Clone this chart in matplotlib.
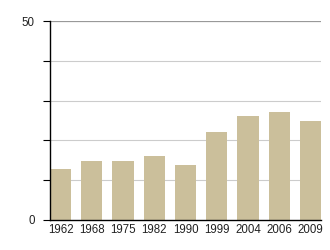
import numpy as np
import matplotlib
matplotlib.use("Agg")
import matplotlib.pyplot as plt

plt.rcParams["font.family"] = ["Liberation Sans", "DejaVu Sans"]

# values
years = ["1962", "1968", "1975", "1982", "1990", "1999", "2004", "2006", "2009"]
values = [12.8, 14.8, 14.8, 16.2, 13.8, 22.1, 26.1, 27.1, 24.9]
y_ticks = [0, 10, 20, 30, 40, 50]
y_labels = ["0", "", "", "", "", "50"]

bar_color = "#cbbf9b"
width = 0.68

fig = plt.figure(figsize=(3.3, 2.5), dpi=100)
ax = fig.add_axes([50 / 330, 30 / 250, 271 / 330, 199 / 250])

x = np.arange(len(years))
ax.bar(x, values, width=width, color=bar_color, zorder=2)

# horizontal grid lines, top one a bit darker
for t in y_ticks[1:-1]:
    ax.axhline(t, color="#cccccc", linewidth=0.8, zorder=1)
ax.axhline(y_ticks[-1], color="#999999", linewidth=0.9, zorder=1)

ax.set_xlim(-width / 2, len(years) - 1 + width / 2)
ax.set_ylim(0, 50)
ax.set_xticks(x)
ax.set_xticklabels(years, fontsize=8.3, color="#222222")
ax.set_yticks(y_ticks)
ax.set_yticklabels(y_labels, fontsize=8.3, color="#222222")
ax.tick_params(axis="x", length=0, pad=3)
ax.tick_params(axis="y", length=5, width=0.8, pad=6)

for side in ["top", "right"]:
    ax.spines[side].set_visible(False)
ax.spines["left"].set_linewidth(1.0)
ax.spines["bottom"].set_linewidth(1.0)

fig.savefig("out.png", dpi=100)
